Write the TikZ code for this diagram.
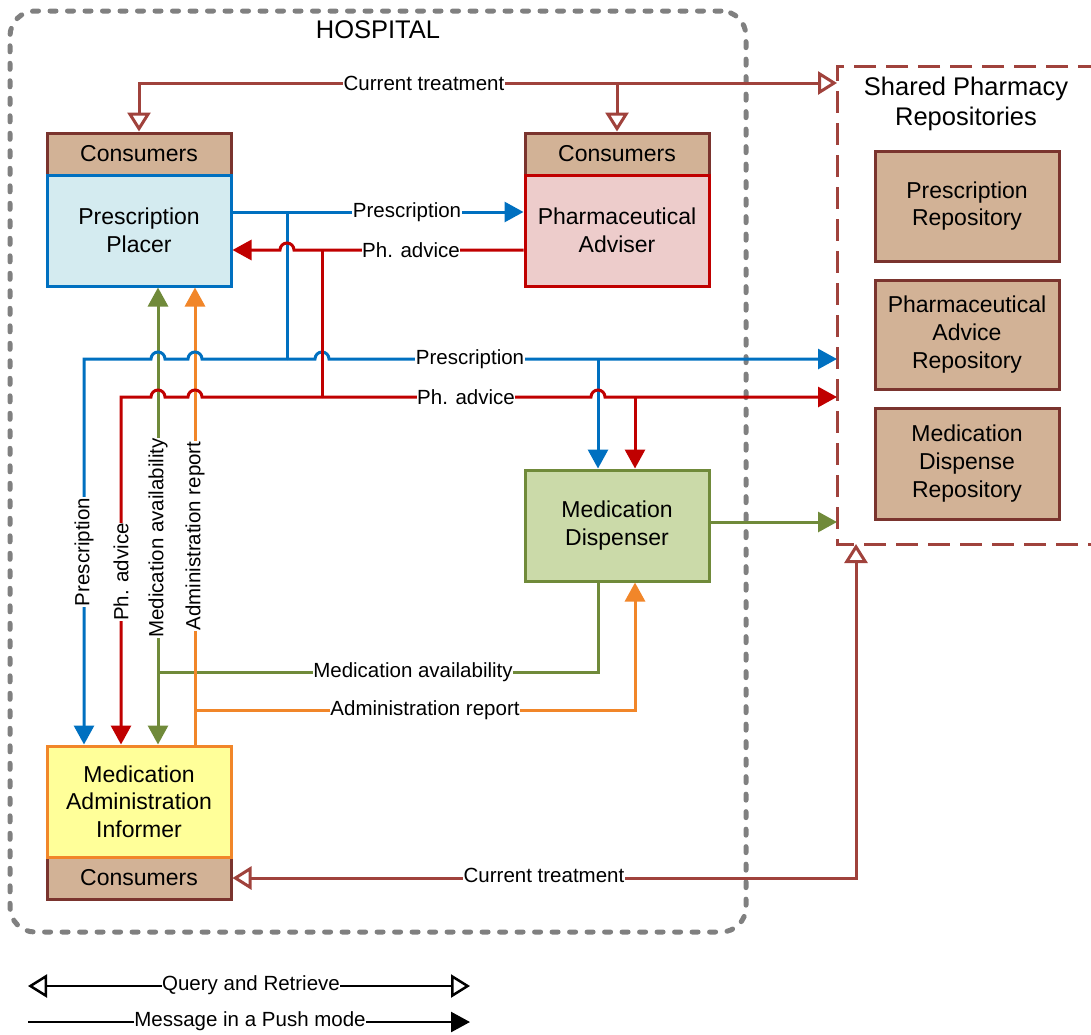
\documentclass[tikz,border=0pt]{standalone}
\usepackage{fontspec}
\setmainfont{Liberation Sans}
\usetikzlibrary{arrows.meta,calc}

\definecolor{presblue}{RGB}{0,112,192}
\definecolor{advred}{RGB}{192,0,0}
\definecolor{availgreen}{RGB}{112,138,58}
\definecolor{reportorange}{RGB}{241,134,41}
\definecolor{treatbrown}{RGB}{160,66,60}
\definecolor{tanfill}{RGB}{210,178,150}
\definecolor{tanedge}{RGB}{122,52,46}
\definecolor{hospgrey}{RGB}{128,128,128}
\definecolor{placerfill}{RGB}{212,235,240}
\definecolor{adviserfill}{RGB}{237,204,203}
\definecolor{dispenserfill}{RGB}{203,218,169}
\definecolor{informerfill}{RGB}{255,255,153}

% arrow tips: open triangle for query/retrieve, filled triangle for push
\tikzset{
  qrhead/.tip={Triangle[open,length=19pt,width=23pt,fill=white]},
  pushhead/.tip={Triangle[length=19pt,width=20pt]},
}

\begin{document}
\begin{tikzpicture}[x=1pt,y=-1pt,
  boxfont/.style={font=\fontsize{23}{27.6}\selectfont},
  actor/.style={draw, line width=3pt, rectangle, minimum width=184pt,
    minimum height=111pt, inner sep=0pt, align=center, boxfont},
  consumers/.style={draw=tanedge, fill=tanfill, line width=3pt, rectangle,
    minimum width=184pt, minimum height=42pt, inner sep=0pt, boxfont},
  repobox/.style={draw=tanedge, fill=tanfill, line width=3pt, rectangle,
    minimum width=184pt, inner sep=0pt, align=center, boxfont},
  lbl/.style={fill=white, inner sep=0.6pt, font=\fontsize{20.5}{24}\selectfont},
  conn/.style={line width=3pt},
  pres/.style={conn, draw=presblue},
  adv/.style={conn, draw=advred},
  avail/.style={conn, draw=availgreen},
  report/.style={conn, draw=reportorange},
  treat/.style={conn, draw=treatbrown},
  push/.style={-pushhead},
]
\useasboundingbox (0,0) rectangle (1091,1034);

% ---------- frames ----------
\node[draw=hospgrey, line width=5pt, rounded corners=25pt, line cap=round,
  dash pattern=on 6pt off 11.5pt, minimum width=736pt, minimum height=921pt,
  inner sep=0pt] (hospital) at (378,471.5) {};
\node[font=\fontsize{25.5}{30}\selectfont] (hosptitle) at (378,30) {HOSPITAL};

\draw[treatbrown, line width=3pt, dash pattern=on 22pt off 10pt]
  (1100,66) -- (837,66) -- (837,544) -- (1100,544);
\node[align=center, font=\fontsize{25.5}{30}\selectfont] (repotitle) at (966,104)
  {Shared Pharmacy\\Repositories};

\node[repobox, minimum height=110pt] (presrepo) at (967,206) {Prescription\\Repository};
\node[repobox, minimum height=109pt] (advrepo) at (967,334.5) {Pharmaceutical\\Advice\\Repository};
\node[repobox, minimum height=111pt] (disprepo) at (967,463.5) {Medication\\Dispense\\Repository};

% ---------- actors ----------
\node[consumers] (PPc) at (139,154) {Consumers};
\node[actor, draw=presblue, fill=placerfill] (PP) at (139,230.5) {Prescription\\Placer};

\node[consumers] (PAc) at (617,154) {Consumers};
\node[actor, draw=advred, fill=adviserfill] (PA) at (617,230.5) {Pharmaceutical\\Adviser};

\node[actor, draw=availgreen, fill=dispenserfill] (MD) at (617,525.5) {Medication\\Dispenser};

\node[consumers] (MAIc) at (139,878) {Consumers};
\node[actor, draw=reportorange, fill=informerfill] (MAI) at (139,801.5)
  {Medication\\Administration\\Informer};

% ---------- junctions and free ends ----------
\coordinate (ctR) at (837,83);
\coordinate (ctB) at (856,544);
\coordinate (jP1) at (287,212);
\coordinate (jP2) at (287,359);
\coordinate (jP3) at (598,359);
\coordinate (xP) at (84,359);
\coordinate (presR) at (837,359);
\coordinate (jA1) at (322,250);
\coordinate (jA2) at (322,397);
\coordinate (jA3) at (635,397);
\coordinate (xA) at (121,397);
\coordinate (advR) at (837,397);
\coordinate (jV) at (158,672);
\coordinate (jR) at (195,710);
\coordinate (mdR) at (837,522);

% ---------- medication availability / administration report ----------
\draw[avail, push] (jP3 |- MD.south) |- (jV) -- (jV |- PP.south);
\draw[avail, push] (jV) -- (jV |- MAI.north);
\draw[report, push] (jR |- MAI.north) -- (jR |- PP.south);
\draw[report, push] (jR) -| (jA3 |- MD.south);
\draw[avail, push] (MD.east |- mdR) -- (mdR);

% ---------- prescription ----------
\draw[pres, push] (PP.east |- jP1) -- (PA.west |- jP1);
\draw[pres] (jP1) -- (jP2);
\draw[pres, push] (jP2) -- (315,359) arc[start angle=180,end angle=0,radius=7pt] -- (presR);
\draw[pres, push] (jP2) -- (202,359) arc[start angle=0,end angle=180,radius=7pt]
  -- (165,359) arc[start angle=0,end angle=180,radius=7pt] -- (xP) -- (xP |- MAI.north);
\draw[pres, push] (jP3) -- (jP3 |- MD.north);

% ---------- pharmaceutical advice ----------
\draw[adv, push] (PA.west |- jA1) -- (294,250) arc[start angle=0,end angle=180,radius=7pt]
  -- (PP.east |- jA1);
\draw[adv] (jA1) -- (jA2);
\draw[adv, push] (jA2) -- (591,397) arc[start angle=180,end angle=0,radius=7pt] -- (advR);
\draw[adv, push] (jA2) -- (202,397) arc[start angle=0,end angle=180,radius=7pt]
  -- (165,397) arc[start angle=0,end angle=180,radius=7pt] -- (xA) -- (xA |- MAI.north);
\draw[adv, push] (jA3) -- (jA3 |- MD.north);

% ---------- current treatment ----------
\draw[treat, qrhead-qrhead] (PPc.north) |- (ctR);
\draw[treat, -qrhead] (PAc.north |- ctR) -- (PAc.north);
\draw[treat, qrhead-qrhead] (MAIc.east) -| (ctB);

% ---------- labels ----------
\node[lbl] (l1) at (424,83) {Current treatment};
\node[lbl] (l2) at (407,212) {Prescription};
\node[lbl] (l3) at (411,250) {Ph. advice};
\node[lbl] (l4) at (470,359) {Prescription};
\node[lbl] (l5) at (466,397) {Ph. advice};
\node[lbl] (l6) at (413,672) {Medication availability};
\node[lbl] (l7) at (425,710) {Administration report};
\node[lbl] (l8) at (544,875) {Current treatment};
\node[lbl, rotate=90] (v1) at (84,552) {Prescription};
\node[lbl, rotate=90] (v2) at (121,572) {Ph. advice};
\node[lbl, rotate=90] (v3) at (158,538) {Medication availability};
\node[lbl, rotate=90] (v4) at (195,536) {Administration report};

% ---------- legend ----------
\coordinate (qrL) at (28,986);
\coordinate (qrR) at (470,986);
\coordinate (puL) at (28,1022);
\coordinate (puR) at (470,1022);
\draw[line width=2.5pt, qrhead-qrhead] (qrL) -- (qrR);
\draw[line width=2.5pt, -pushhead] (puL) -- (puR);
\node[lbl] (lg1) at (251,985) {Query and Retrieve};
\node[lbl] (lg2) at (250,1021) {Message in a Push mode};
\end{tikzpicture}
\end{document}
